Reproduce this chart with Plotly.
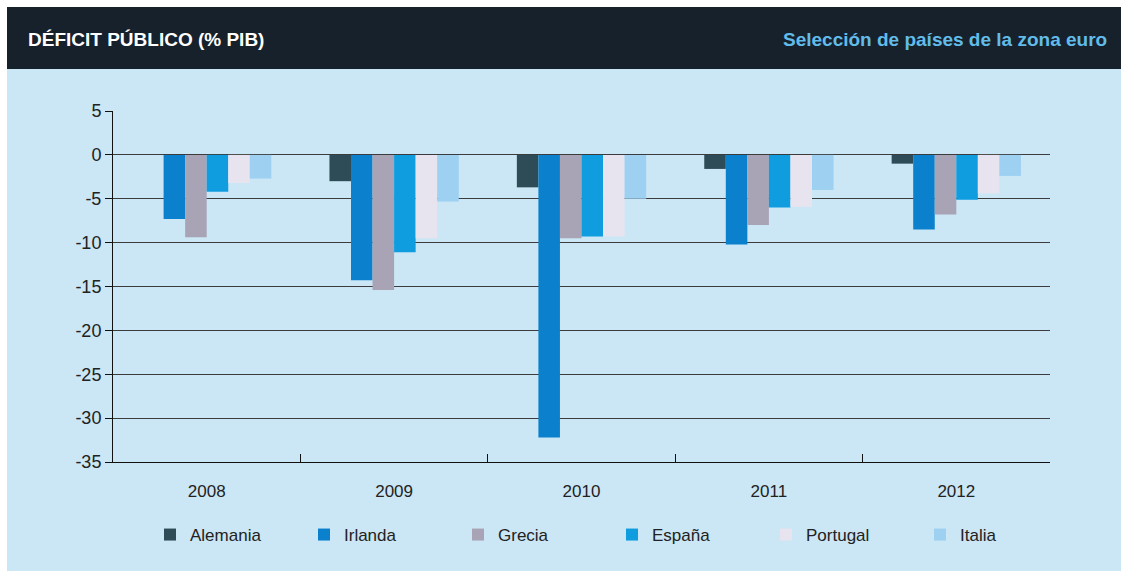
import plotly.graph_objects as go

years = ["2008", "2009", "2010", "2011", "2012"]
countries = ["Alemania", "Irlanda", "Grecia", "España", "Portugal", "Italia"]
alemania = [None, -3.0, -3.7, -1.6, -1.0]
irlanda = [-7.3, -14.3, -32.2, -10.2, -8.5]
grecia = [-9.4, -15.4, -9.5, -8.0, -6.8]
espana = [-4.2, -11.1, -9.3, -6.0, -5.1]
portugal = [-3.2, -9.5, -9.3, -5.9, -4.4]
italia = [-2.7, -5.3, -5.0, -4.0, -2.4]
series = [alemania, irlanda, grecia, espana, portugal, italia]
colors = ["#2e4b58", "#0b80cd", "#a8a4b6", "#0f9de0", "#e7e4ef", "#9dd0f1"]
y_ticks = [5, 0, -5, -10, -15, -20, -25, -30, -35]

W, H = 1121, 571
L, R, T, B = 113, 1050, 111, 462
pw, ph = R - L, B - T

def px(x):
    return (x - L) / pw

def py(y):
    return (B - y) / ph

FONT = "Liberation Sans Narrow, Arial Narrow, Liberation Sans, Arial, sans-serif"
BG = "#cbe6f5"

fig = go.Figure()
for name, vals, col in zip(countries, series, colors):
    fig.add_trace(go.Bar(x=years, y=vals, name=name, marker=dict(color=col, line=dict(width=0))))

fig.update_layout(
    width=W, height=H,
    margin=dict(l=L, r=W - R, t=T, b=H - B, pad=0, autoexpand=False),
    paper_bgcolor=BG, plot_bgcolor=BG,
    barmode="group", bargap=0.31, bargroupgap=0,
    font=dict(family=FONT, color="#222222", size=17),
    showlegend=True,
    legend=dict(orientation="h", xref="container", yref="container",
                x=150 / W, xanchor="left", y=1 - 535 / H, yanchor="middle",
                entrywidth=109, entrywidthmode="pixels",
                font=dict(family=FONT, size=17, color="#222222"),
                bgcolor="rgba(0,0,0,0)", traceorder="normal"),
    xaxis=dict(type="category", showline=True, linecolor="#111111", linewidth=1,
               ticks="inside", tickson="boundaries", ticklen=8, tickcolor="#111111",
               showgrid=False, tickfont=dict(size=17, color="#222222"),
               ticklabelstandoff=14),
    yaxis=dict(range=[-35, 5], tickvals=y_ticks, ticktext=[str(v) for v in y_ticks],
               showline=True, linecolor="#111111", linewidth=1,
               ticks="outside", ticklen=7, tickcolor="#111111",
               showgrid=True, gridcolor="#3c3c3c", gridwidth=1, zeroline=False,
               tickfont=dict(size=18, color="#222222")),
    shapes=[
        dict(type="rect", xref="paper", yref="paper", x0=px(0), x1=px(W), y0=py(7), y1=py(0),
             fillcolor="#ffffff", line=dict(width=0), layer="below"),
        dict(type="rect", xref="paper", yref="paper", x0=px(0), x1=px(7), y0=py(H), y1=py(0),
             fillcolor="#ffffff", line=dict(width=0), layer="below"),
        dict(type="rect", xref="paper", yref="paper", x0=px(7), x1=px(W), y0=py(69), y1=py(7),
             fillcolor="#16212c", line=dict(width=0), layer="below"),
    ],
    annotations=[
        dict(text="<b>DÉFICIT PÚBLICO (% PIB)</b>", xref="paper", yref="paper",
             x=px(26), y=py(39), xanchor="left", yanchor="middle", showarrow=False,
             font=dict(family=FONT, size=19, color="#ffffff")),
        dict(text="<b>Selección de países de la zona euro</b>", xref="paper", yref="paper",
             x=px(1109), y=py(39), xanchor="right", yanchor="middle", showarrow=False,
             font=dict(family=FONT, size=19, color="#62bce9")),
    ],
)

fig.write_html("out.html")
